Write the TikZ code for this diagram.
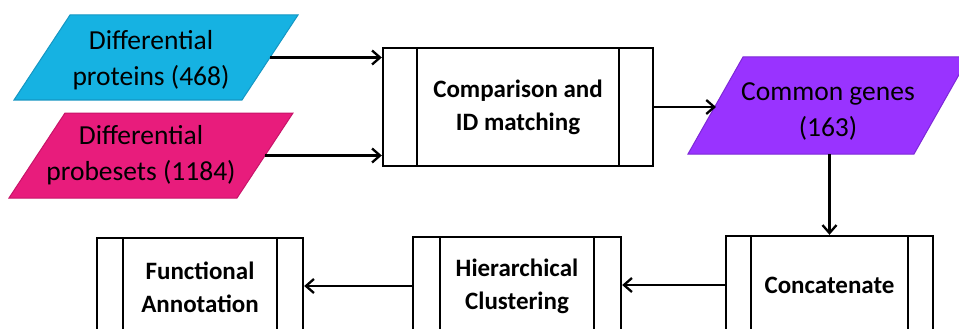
\documentclass[tikz,border=0pt]{standalone}
\usepackage{fontspec}
\setmainfont{Carlito}
\usetikzlibrary{arrows.meta}
\definecolor{cblue}{RGB}{22,178,226}
\definecolor{cblueD}{RGB}{20,150,195}
\definecolor{cpink}{RGB}{232,28,124}
\definecolor{cpinkD}{RGB}{200,20,105}
\definecolor{cpurple}{RGB}{153,51,255}
\definecolor{cpurpleD}{RGB}{125,40,215}
\def\barinset{26pt}
\tikzset{
  paratext/.style={inner sep=0pt, align=center, font=\fontsize{27.5}{36}\selectfont},
  parashape/.style={line width=1pt, line join=miter},
  proc/.style={draw, rectangle, line width=2.4pt, inner sep=0pt, align=center,
    font=\bfseries\fontsize{25}{33}\selectfont,
    path picture={
      \draw[line width=2.4pt] ([xshift=\barinset]path picture bounding box.north west) -- ([xshift=\barinset]path picture bounding box.south west);
      \draw[line width=2.4pt] ([xshift=-\barinset]path picture bounding box.north east) -- ([xshift=-\barinset]path picture bounding box.south east);
    }},
  inset/.code={\def\barinset{#1}},
  conn/.style={line width=2.3pt, -{Straight Barb[length=8pt,width=14pt]}}
}
\begin{document}
\begin{tikzpicture}[x=1pt,y=-1pt]
\useasboundingbox (0,0) rectangle (959,329);
\clip (0,0) rectangle (959,329);
\fill[white] (0,0) rectangle (959,329);

% parallelograms
\draw[parashape, fill=cblue, draw=cblueD] (14,100) -- (242,100) -- (298,15) -- (70,15) -- cycle;
\draw[parashape, fill=cpink, draw=cpinkD] (9,198) -- (237,198) -- (293,113) -- (65,113) -- cycle;
\draw[parashape, fill=cpurple, draw=cpurpleD] (688,154) -- (914,154) -- (969,57) -- (743,57) -- cycle;

\node[paratext] (dp) at (151,60) {Differential\\proteins (468)};
\node[paratext] (pb) at (141,155) {Differential\\probesets (1184)};
\node[paratext] (cg) at (828,111) {Common genes\\(163)};

\coordinate (dpE) at (270,57.5);
\coordinate (pbE) at (265,155.5);
\coordinate (cgW) at (716,105.5);

% process boxes
\node[proc, inset=34pt, minimum width=270pt, minimum height=118pt] (cmp) at (518,107) {Comparison and\\ID matching};
\node[proc, inset=25pt, minimum width=207pt, minimum height=98pt] (conc) at (829.5,285) {Concatenate};
\node[proc, inset=27pt, minimum width=208pt, minimum height=98pt] (hier) at (517,286) {Hierarchical\\Clustering};
\node[proc, inset=26pt, minimum width=206pt, minimum height=98pt] (func) at (200,287) {Functional\\Annotation};

\coordinate (cgS) at (conc.north |- 0,154);

% connectors
\draw[conn] (dpE) -- (cmp.west |- dpE);
\draw[conn] (pbE) -- (cmp.west |- pbE);
\draw[conn] (cmp.east) -- (cgW |- cmp.east);
\draw[conn] (cgS) -- (conc.north);
\draw[conn] (conc.west) -- (hier.east |- conc.west);
\draw[conn] (hier.west) -- (func.east |- hier.west);
\end{tikzpicture}
\end{document}
